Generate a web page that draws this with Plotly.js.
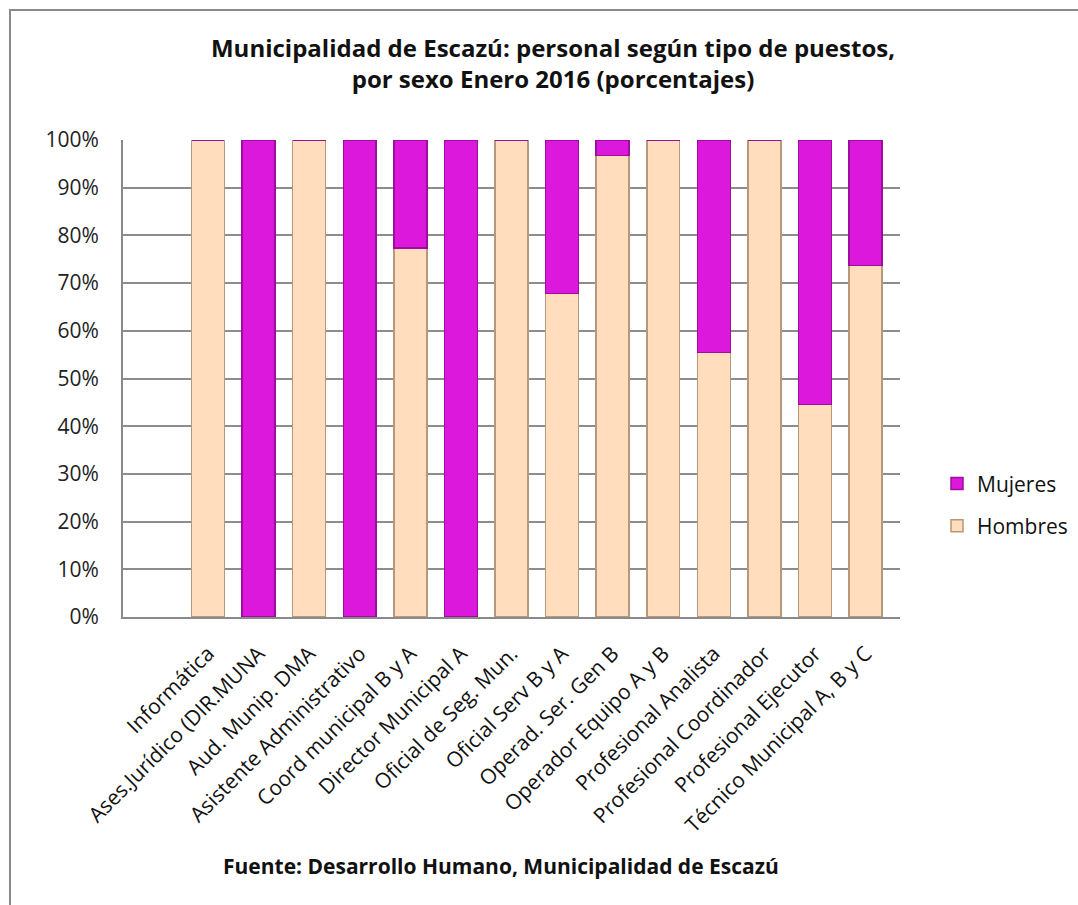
<!DOCTYPE html>
<html>
<head>
<meta charset="utf-8">
<script src="https://cdn.plot.ly/plotly-3.0.1.min.js"></script>
<style>
html,body{margin:0;padding:0;background:#fff;}
#wrap{position:relative;width:1078px;height:905px;}
#chart{width:1078px;height:905px;}
#frame{position:absolute;left:9px;top:9px;width:1100px;height:920px;border-left:2px solid #8a8a8a;border-top:2px solid #8a8a8a;pointer-events:none;}
</style>
</head>
<body>
<div id="wrap"><div id="chart"></div><div id="frame"></div></div>
<script>
const categories = [
  "Informática",
  "Ases.Jurídico (DIR.MUNA",
  "Aud. Munip. DMA",
  "Asistente Administrativo",
  "Coord municipal B y A",
  "Director Municipal A",
  "Oficial de Seg. Mun.",
  "Oficial Serv B y A",
  "Operad. Ser. Gen B",
  "Operador Equipo A y B",
  "Profesional Analista",
  "Profesional Coordinador",
  "Profesional Ejecutor",
  "Técnico Municipal A, B y C"
];
const hombres = [100, 0, 100, 0, 77.4, 0, 100, 67.8, 96.8, 100, 55.4, 100, 44.6, 73.7];
const mujeres = [0, 100, 0, 100, 22.6, 100, 0, 32.2, 3.2, 0, 44.6, 0, 55.4, 26.3];
const yTicks = [0, 10, 20, 30, 40, 50, 60, 70, 80, 90, 100];
const yTickText = ["0%", "10%", "20%", "30%", "40%", "50%", "60%", "70%", "80%", "90%", "100%"];

const FONT = "Open Sans, Lato, sans-serif";
const traces = [
  {
    type: "bar", name: "Hombres", x: categories, y: hombres,
    legendgroup: "h", legendrank: 2,
    marker: {color: "#FFDDBD", line: {color: "#B8977A", width: 1.5}},
    hoverinfo: "x+y+name"
  },
  {
    type: "bar", name: "Mujeres", x: categories, y: mujeres,
    legendgroup: "m", legendrank: 1,
    marker: {color: "#DD18DD", line: {color: "#9E0E9E", width: 1.5}},
    hoverinfo: "x+y+name"
  }
];

const n = categories.length;
const layout = {
  width: 1078, height: 905,
  paper_bgcolor: "#ffffff", plot_bgcolor: "#ffffff",
  margin: {l: 123, r: 178, t: 140, b: 288, autoexpand: false},
  barmode: "stack",
  bargap: 0.35,
  font: {family: FONT, size: 21, color: "#222"},
  title: {
    text: "<b>Municipalidad de Escazú: personal según tipo de puestos,<br>por sexo Enero 2016 (porcentajes)</b>",
    font: {family: FONT, size: 24, color: "#111"},
    x: 0.513, xref: "container", xanchor: "center",
    y: 1 - 57 / 905, yref: "container", yanchor: "middle"
  },
  xaxis: {
    type: "category",
    range: [-1.68, n - 1 + 0.68],
    tickangle: -45,
    tickfont: {family: FONT, size: 21, color: "#111"},
    showgrid: false,
    showline: true, linecolor: "#8a8a8a", linewidth: 2,
    ticks: "", ticklabelstandoff: 14,
    fixedrange: true
  },
  yaxis: {
    range: [0, 100],
    tickvals: yTicks, ticktext: yTickText,
    tickfont: {family: FONT, size: 21, color: "#222"},
    showgrid: true, gridcolor: "#8c8c8c", gridwidth: 2,
    showline: true, linecolor: "#8a8a8a", linewidth: 2,
    zeroline: false,
    ticks: "", ticklabelstandoff: 18,
    fixedrange: true
  },
  legend: {
    xref: "container", x: 937 / 1078, xanchor: "left",
    y: 0.235, yanchor: "middle",
    traceorder: "grouped", tracegroupgap: 12,
    font: {family: FONT, size: 21, color: "#111"},
    bgcolor: "rgba(0,0,0,0)", itemwidth: 30
  },
  annotations: [{
    text: "<b>Fuente: Desarrollo Humano, Municipalidad de Escazú</b>",
    xref: "paper", yref: "paper", x: 0.486, y: (617 - 866) / 477,
    xanchor: "center", yanchor: "middle", showarrow: false,
    font: {family: FONT, size: 21, color: "#111"}
  }]
};

Plotly.newPlot("chart", traces, layout, {displayModeBar: false, staticPlot: true});
</script>
</body>
</html>
